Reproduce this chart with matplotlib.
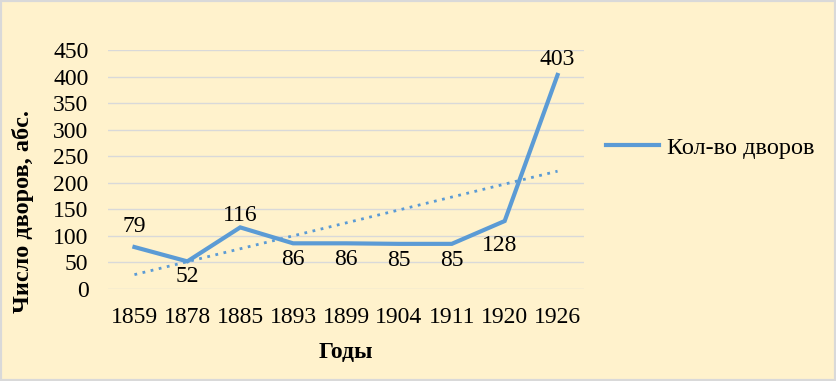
import numpy as np
import matplotlib.pyplot as plt
from matplotlib.patches import Rectangle

years = ['1859', '1878', '1885', '1893', '1899', '1904', '1911', '1920', '1926']
dvory = [79, 52, 116, 86, 86, 85, 85, 128, 403]

# смещения подписей данных, пиксели (dx, dy)
label_offsets = [(0, 21), (0, -15), (0, 12), (0, -16), (0, -16), (0, -17), (0, -17), (-5, -24), (0, 15)]

plt.rcParams['font.family'] = ['Liberation Serif', 'DejaVu Serif']

bg = '#FFF2CC'
blue = '#5B9BD5'
fs = 17
px = 72 / 100  # пиксели -> точки

fig = plt.figure(figsize=(8.36, 3.81), dpi=100, facecolor=bg)
fig.patches.append(Rectangle((0, 0), 1, 1, transform=fig.transFigure, fill=False,
                             edgecolor='#D9D9D9', linewidth=3))

ax = fig.add_axes([108 / 836, 1 - 289 / 381, 476 / 836, 239 / 381])
ax.set_facecolor(bg)

x = np.arange(len(years))
ax.plot(x, dvory, color=blue, linewidth=3, solid_joinstyle='miter', label='Кол-во дворов')

# линейный тренд
k, b = np.polyfit(x, dvory, 1)
ax.plot(x, k * x + b, color=blue, linewidth=2, linestyle=(0, (1, 2)))

for xi, v, (dx, dy) in zip(x, dvory, label_offsets):
    ax.annotate(str(v), (xi, v), xytext=(dx * px, dy * px), textcoords='offset points',
                ha='center', va='center', fontsize=fs)

ax.set_xlim(-0.5, len(years) - 0.5)
ax.set_ylim(0, 450)
ax.set_yticks(range(0, 451, 50))
ax.set_xticks(x)
ax.set_xticklabels(years)
ax.tick_params(axis='both', length=0, labelsize=fs)
ax.tick_params(axis='x', pad=13)
ax.tick_params(axis='y', pad=14)
ax.grid(axis='y', color='#D9D9D9', linewidth=1)
ax.set_axisbelow(True)
for s in ax.spines.values():
    s.set_visible(False)

ax.set_xlabel('Годы', fontsize=fs, fontweight='bold', labelpad=10)
ax.set_ylabel('Число дворов, абс.', fontsize=17.5, fontweight='bold')
ax.yaxis.set_label_coords(-0.155, 0.326)

ax.legend(loc='center left', bbox_to_anchor=(1.0, 0.59), frameon=False,
          fontsize=17.5, handlelength=2.2, handletextpad=0.3)

fig.savefig('out.png', dpi=100, facecolor=bg)
